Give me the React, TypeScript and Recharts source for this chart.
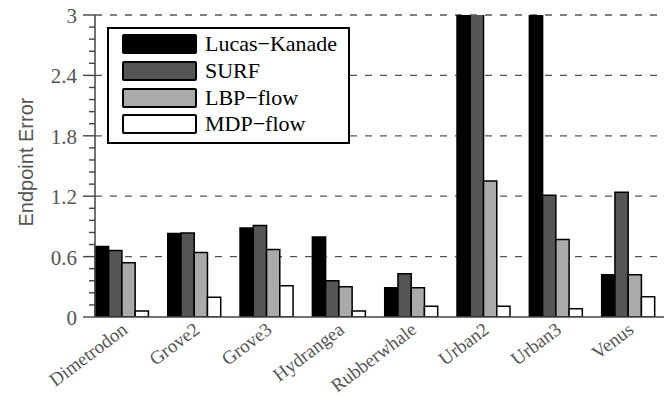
import { BarChart, Bar, XAxis, YAxis, CartesianGrid, Legend } from 'recharts';

const categories = ['Dimetrodon', 'Grove2', 'Grove3', 'Hydrangea', 'Rubberwhale', 'Urban2', 'Urban3', 'Venus'];
// values above 3 run off the top of the axis in the original figure
const lucasKanade = [0.7, 0.83, 0.885, 0.795, 0.29, 3.4, 3.4, 0.42];
const surf = [0.66, 0.835, 0.91, 0.36, 0.43, 3.4, 1.21, 1.24];
const lbpFlow = [0.54, 0.64, 0.67, 0.3, 0.29, 1.35, 0.77, 0.42];
const mdpFlow = [0.06, 0.196, 0.31, 0.06, 0.106, 0.106, 0.083, 0.2];

const yMax = 3;
const yMajor = [0, 0.6, 1.2, 1.8, 2.4, 3];
const yLabels = ['0', '0.6', '1.2', '1.8', '2.4', '3'];
const yAllTicks = Array.from({ length: 26 }, (_, i) => Math.round(i * 12) / 100);

const series = [
  { key: 'lk', name: 'Lucas\u2212Kanade', fill: '#000000' },
  { key: 'surf', name: 'SURF', fill: '#555555' },
  { key: 'lbp', name: 'LBP\u2212flow', fill: '#aaaaaa' },
  { key: 'mdp', name: 'MDP\u2212flow', fill: '#ffffff' },
];

const data = categories.map((name, i) => ({
  name,
  lk: lucasKanade[i],
  surf: surf[i],
  lbp: lbpFlow[i],
  mdp: mdpFlow[i],
}));

const serif = '"Liberation Serif", "Times New Roman", serif';
const sans = '"Liberation Sans", Arial, sans-serif';

function YTick({ x, y, payload }: any) {
  const idx = yMajor.findIndex((v) => Math.abs(v - payload.value) < 1e-6);
  const major = idx >= 0;
  return (
    <g>
      <line x1={x - (major ? 12 : 6)} x2={x} y1={y} y2={y} stroke="#444" strokeWidth={1.4} />
      {major && (
        <text x={x - 18} y={y} dy={8} textAnchor="end" fontFamily={serif} fontSize={21} fill="#555">
          {yLabels[idx]}
        </text>
      )}
    </g>
  );
}

function XTick({ x, y, payload }: any) {
  return (
    <text
      transform={`translate(${x + 7},${y + 15}) rotate(-37)`}
      textAnchor="end"
      fontFamily={serif}
      fontSize={19}
      fill="#555"
    >
      {payload.value}
    </text>
  );
}

function LegendBox() {
  return (
    <div
      style={{
        border: '2px solid #000',
        background: '#fff',
        width: 243,
        height: 117,
        boxSizing: 'border-box',
        padding: '2px 0 0 13px',
      }}
    >
      {series.map((s) => (
        <div key={s.key} style={{ display: 'flex', alignItems: 'center', height: 26.7 }}>
          <div
            style={{
              width: 75,
              height: 20,
              boxSizing: 'border-box',
              background: s.fill,
              border: '2px solid #000',
              borderRadius: 2,
            }}
          />
          <span style={{ fontFamily: serif, fontSize: 22, color: '#000', marginLeft: 8, lineHeight: '22px' }}>
            {s.name}
          </span>
        </div>
      ))}
    </div>
  );
}

export default function App() {
  return (
    <div style={{ position: 'absolute', left: 0, top: 0, background: '#fff' }}>
      <BarChart
        width={672}
        height={398}
        data={data}
        margin={{ top: 15, right: 8, left: 35, bottom: 21 }}
        barGap={0}
        barSize={13.25}
      >
        <CartesianGrid
          vertical={false}
          stroke="#555"
          strokeWidth={1.3}
          strokeDasharray="7 8"
          horizontalCoordinatesGenerator={({ offset }: any) =>
            yMajor.slice(1).map((v) => offset.top + offset.height * (1 - v / yMax))
          }
        />
        <XAxis
          dataKey="name"
          padding={{ left: -9.6, right: 0 }}
          height={60}
          tickLine={false}
          tickSize={0}
          tickMargin={0}
          interval={0}
          axisLine={{ stroke: '#444', strokeWidth: 1.5 }}
          tick={<XTick />}
        />
        <YAxis
          width={60}
          domain={[0, yMax]}
          allowDataOverflow
          ticks={yAllTicks}
          interval={0}
          tickLine={false}
          tickSize={0}
          tickMargin={0}
          axisLine={{ stroke: '#444', strokeWidth: 1.5 }}
          tick={<YTick />}
          label={() => (
            <text
              x={33}
              y={162}
              transform="rotate(-90 33 162)"
              textAnchor="middle"
              fontFamily={sans}
              fontSize={20}
              fill="#555"
            >
              Endpoint Error
            </text>
          )}
        />
        <Legend
          layout="vertical"
          align="center"
          verticalAlign="middle"
          content={<LegendBox />}
          wrapperStyle={{ position: 'absolute', left: 107, top: 27, width: 243, height: 117 }}
        />
        {series.map((s) => (
          <Bar
            key={s.key}
            dataKey={s.key}
            name={s.name}
            fill={s.fill}
            stroke="#000"
            strokeWidth={1.5}
            isAnimationActive={false}
          />
        ))}
      </BarChart>
    </div>
  );
}
